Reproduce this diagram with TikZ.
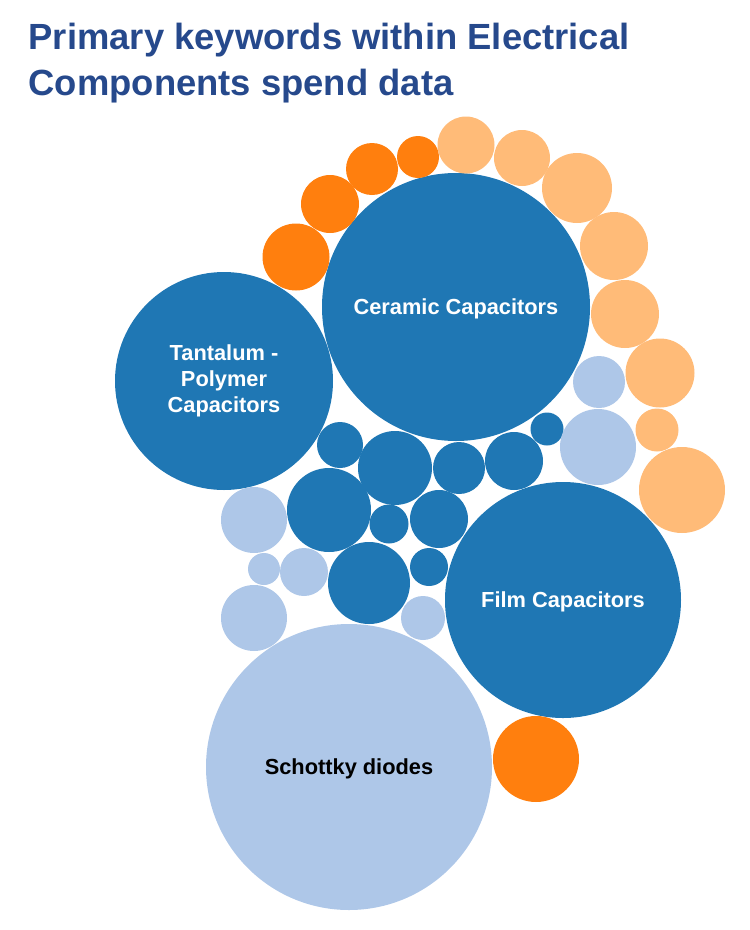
\documentclass[tikz,border=0pt]{standalone}
\usepackage{fontspec}
\setmainfont{Liberation Sans}
\definecolor{db}{HTML}{1F77B4}
\definecolor{lb}{HTML}{AEC7E8}
\definecolor{og}{HTML}{FF7F0E}
\definecolor{lo}{HTML}{FFBB78}
\definecolor{titleblue}{HTML}{26498C}
\tikzset{
  bub/.style={circle, draw=none, inner sep=0pt, outer sep=0pt, minimum size=2*#1},
  lab/.style={font=\bfseries\fontsize{21.8}{26.3}\selectfont, align=center},
  oneline/.style={text height=15.6pt, text depth=0pt},
}
\begin{document}
\begin{tikzpicture}[x=1pt,y=-1pt]
\useasboundingbox (0,0) rectangle (750,930);
% title
\node[anchor=north west, inner sep=0pt, align=left, text=titleblue,
      font=\bfseries\fontsize{36.4}{46.5}\selectfont] (title) at (28.5,22.5)
  {Primary keywords within Electrical\\Components spend data};
% dark blue
\node[bub=134pt, fill=db, lab, oneline, text=white] (ceramic) at (456,307) {Ceramic Capacitors};
\node[bub=109pt, fill=db, lab, text=white] (tantalum) at (224,381) {Tantalum -\\Polymer\\Capacitors};
\node[bub=118pt, fill=db, lab, oneline, text=white] (film) at (563,600) {Film Capacitors};
\node[bub=23pt, fill=db] (d4) at (340,445) {};
\node[bub=37pt, fill=db] (d5) at (395,468) {};
\node[bub=26pt, fill=db] (d6) at (459,468) {};
\node[bub=29pt, fill=db] (d7) at (514,461) {};
\node[bub=16.5pt, fill=db] (d8) at (547,429) {};
\node[bub=42pt, fill=db] (d9) at (329,510) {};
\node[bub=19.5pt, fill=db] (d10) at (389,524) {};
\node[bub=29pt, fill=db] (d11) at (439,519) {};
\node[bub=41pt, fill=db] (d12) at (369,583) {};
\node[bub=19pt, fill=db] (d13) at (429,567) {};
% light blue
\node[bub=143pt, fill=lb, lab, oneline, text=black] (schottky) at (349,767) {Schottky diodes};
\node[bub=26pt, fill=lb] (l2) at (599,382) {};
\node[bub=38pt, fill=lb] (l3) at (598,447) {};
\node[bub=33pt, fill=lb] (l4) at (254,520) {};
\node[bub=16pt, fill=lb] (l5) at (264,569) {};
\node[bub=24pt, fill=lb] (l6) at (304,572) {};
\node[bub=33pt, fill=lb] (l7) at (254,618) {};
\node[bub=22pt, fill=lb] (l8) at (423,618) {};
% orange
\node[bub=33.5pt, fill=og] (o1) at (296,257) {};
\node[bub=29pt, fill=og] (o2) at (330,204) {};
\node[bub=26pt, fill=og] (o3) at (372,169) {};
\node[bub=21pt, fill=og] (o4) at (418,157) {};
\node[bub=43pt, fill=og] (o5) at (536,759) {};
% light orange
\node[bub=28.5pt, fill=lo] (p1) at (466,145) {};
\node[bub=28pt, fill=lo] (p2) at (522,158) {};
\node[bub=35pt, fill=lo] (p3) at (577,188) {};
\node[bub=34pt, fill=lo] (p4) at (614,246) {};
\node[bub=34pt, fill=lo] (p5) at (625,314) {};
\node[bub=34.5pt, fill=lo] (p6) at (660,373) {};
\node[bub=21.5pt, fill=lo] (p7) at (657,430) {};
\node[bub=43pt, fill=lo] (p8) at (682,490) {};
\end{tikzpicture}
\end{document}
